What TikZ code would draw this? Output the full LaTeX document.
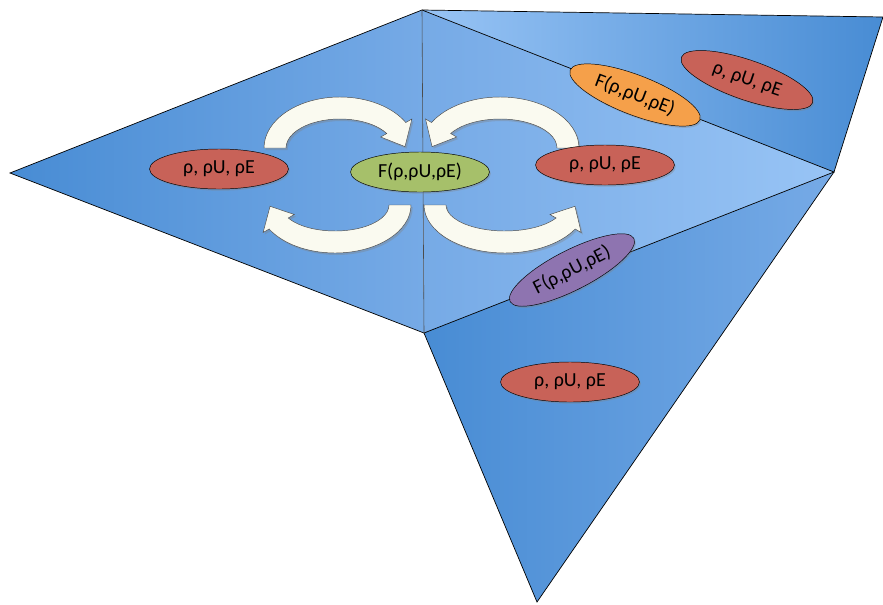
\documentclass[tikz,border=0pt]{standalone}
\usepackage{fontspec}
\setmainfont{Carlito}
\usetikzlibrary{shapes.geometric,calc,shadows}

\definecolor{celldark}{RGB}{72,140,212}
\definecolor{cellmid}{RGB}{118,170,230}
\definecolor{celllight}{RGB}{152,196,245}
\definecolor{cellred}{RGB}{200,98,88}
\definecolor{fluxgreen}{RGB}{166,192,106}
\definecolor{fluxorange}{RGB}{245,160,74}
\definecolor{fluxpurple}{RGB}{142,116,176}
\definecolor{arrowwhite}{RGB}{250,250,240}

\tikzset{
  cellvalue/.style={ellipse,draw=black,fill=cellred,minimum width=4.17cm,minimum height=1.2cm,
    inner sep=0pt,font=\fontsize{17}{20}\selectfont,
    drop shadow={opacity=.35,shadow xshift=.04cm,shadow yshift=-.05cm}},
  facevalue/.style={cellvalue,fill=fluxgreen},
  cyclearrow/.style={draw=black!70,fill=arrowwhite,line width=.4pt,
    drop shadow={opacity=.35,shadow xshift=.05cm,shadow yshift=-.06cm}},
  edge/.style={draw=black,line width=.6pt}
}

% block arrow along an elliptic arc: center, rx, ry, start, end of body, tip
\newcommand{\cycarrow}[6]{%
  \filldraw[cyclearrow]
    ($(#1)+(#4:{#2+11} and {#3+11})$)
    arc[start angle=#4,end angle=#5,x radius=#2+11,y radius=#3+11]
    -- ($(#1)+(#5:{#2+18} and {#3+18})$)
    -- ($(#1)+(#6:#2 and #3)$)
    -- ($(#1)+(#5:{#2-18} and {#3-18})$)
    -- ($(#1)+(#5:{#2-11} and {#3-11})$)
    arc[start angle=#5,end angle=#4,x radius=#2-11,y radius=#3-11]
    -- cycle;}

\begin{document}
\begin{tikzpicture}[x=0.03cm,y=-0.03cm]
  \useasboundingbox (0,0) rectangle (883,604);

  % mesh vertices
  \coordinate (L) at (10,173);
  \coordinate (A) at (422,10);
  \coordinate (C) at (424,333);
  \coordinate (R) at (834,172);
  \coordinate (TR) at (883,17);
  \coordinate (B) at (537,602);

  % cells
  \shade[left color=celldark,right color=cellmid] (L) -- (A) -- (C) -- cycle;
  \shade[left color=cellmid,right color=celllight] (A) -- (R) -- (C) -- cycle;
  \shade[left color=celllight,right color=celldark] (A) -- (TR) -- (R) -- cycle;
  \shade[left color=celldark,right color=cellmid] (C) -- (R) -- (B) -- cycle;

  \draw[edge] (A) -- (L) -- (C);
  \draw[edge] (A) -- (TR) -- (R);
  \draw[edge] (C) -- (B) -- (R);
  \draw[edge] (A) -- (R) -- (C);
  \draw[draw=black!70,line width=.5pt] (A) -- (C);

  % exchange arrows
  \coordinate (arrowA) at (340,148);
  \coordinate (arrowB) at (335,205);
  \coordinate (arrowC) at (500,148);
  \coordinate (arrowD) at (505,205);
  \cycarrow{arrowA}{65}{40}{180}{330}{358}
  \cycarrow{arrowB}{65}{37}{0}{150}{178}
  \cycarrow{arrowC}{68}{40}{360}{210}{182}
  \cycarrow{arrowD}{70}{37}{180}{30}{2}

  % cell and face values
  \node[cellvalue] (uleft) at (219,169) {ρ, ρU, ρE};
  \node[facevalue] (fmid) at (420,172) {F(ρ,ρU,ρE)};
  \node[cellvalue] (umid) at (605,165) {ρ, ρU, ρE};
  \node[facevalue,fill=fluxorange,rotate=-21] (ftop) at (635,95) {F(ρ,ρU,ρE)};
  \node[cellvalue,rotate=-19] (utop) at (747,80) {ρ, ρU, ρE};
  \node[facevalue,fill=fluxpurple,rotate=27] (fbot) at (572,270) {F(ρ,ρU,ρE)};
  \node[cellvalue] (ubot) at (570,382) {ρ, ρU, ρE};
\end{tikzpicture}
\end{document}
